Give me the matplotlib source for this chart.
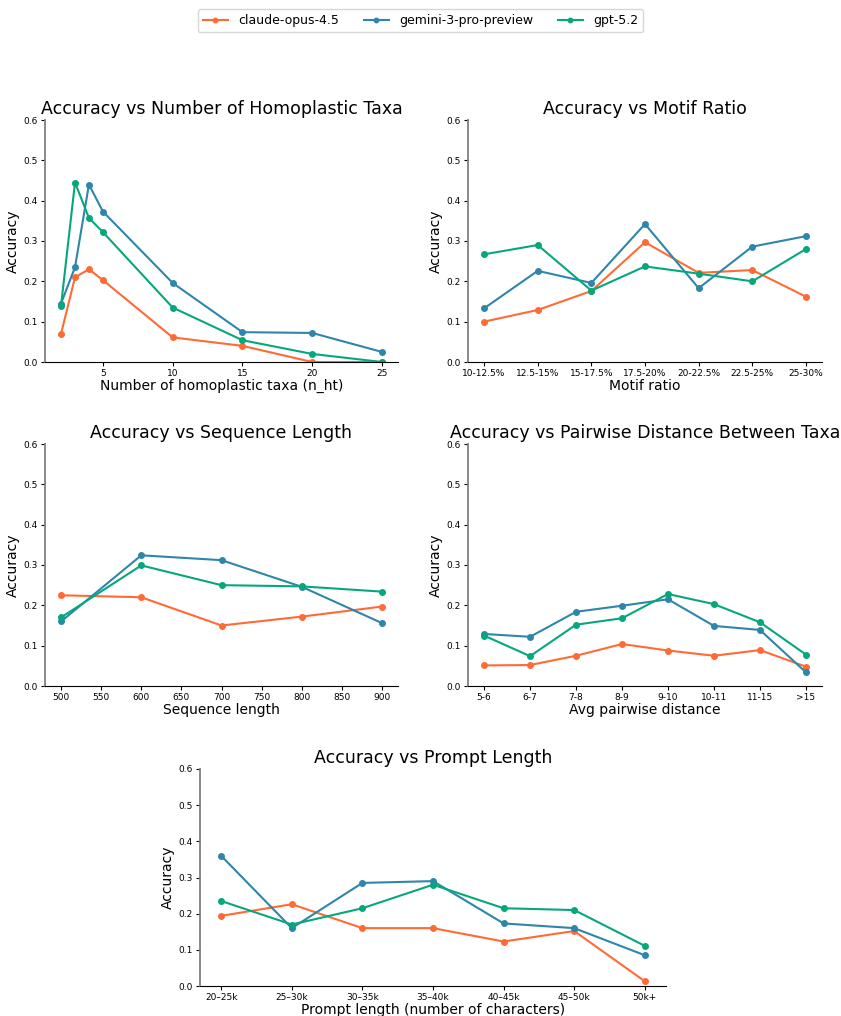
import numpy as np
import matplotlib.pyplot as plt

models = ["claude-opus-4.5", "gemini-3-pro-preview", "gpt-5.2"]
colors = ["#FF6B35", "#2E86AB", "#06A77D"]

# Accuracy vs number of homoplastic taxa
n_ht = [2, 3, 4, 5, 10, 15, 20, 25]
ht_claude = [0.07, 0.21, 0.23, 0.203, 0.061, 0.04, 0.0, 0.0]
ht_gemini = [0.145, 0.235, 0.44, 0.373, 0.196, 0.074, 0.072, 0.025]
ht_gpt = [0.14, 0.445, 0.357, 0.322, 0.135, 0.054, 0.02, 0.0]

# Accuracy vs motif ratio
motif_labels = ["10-12.5%", "12.5-15%", "15-17.5%", "17.5-20%", "20-22.5%", "22.5-25%", "25-30%"]
motif_claude = [0.10, 0.129, 0.176, 0.297, 0.221, 0.228, 0.162]
motif_gemini = [0.133, 0.226, 0.196, 0.342, 0.183, 0.286, 0.312]
motif_gpt = [0.267, 0.29, 0.177, 0.237, 0.219, 0.20, 0.28]

# Accuracy vs sequence length
seq_len = [500, 600, 700, 800, 900]
seq_claude = [0.225, 0.22, 0.15, 0.172, 0.197]
seq_gemini = [0.16, 0.324, 0.312, 0.246, 0.156]
seq_gpt = [0.17, 0.299, 0.25, 0.247, 0.234]

# Accuracy vs pairwise distance
dist_labels = ["5-6", "6-7", "7-8", "8-9", "9-10", "10-11", "11-15", ">15"]
dist_claude = [0.051, 0.052, 0.075, 0.104, 0.088, 0.075, 0.089, 0.048]
dist_gemini = [0.129, 0.122, 0.184, 0.199, 0.215, 0.149, 0.139, 0.034]
dist_gpt = [0.125, 0.074, 0.152, 0.168, 0.228, 0.203, 0.158, 0.078]

# Accuracy vs prompt length
prompt_labels = ["20\u201325k", "25\u201330k", "30\u201335k", "35\u201340k", "40\u201345k", "45\u201350k", "50k+"]
prompt_claude = [0.194, 0.226, 0.16, 0.16, 0.123, 0.152, 0.013]
prompt_gemini = [0.36, 0.16, 0.285, 0.29, 0.173, 0.16, 0.085]
prompt_gpt = [0.235, 0.17, 0.215, 0.28, 0.215, 0.21, 0.111]

W, H = 841, 1016
fig = plt.figure(figsize=(W / 100, H / 100), dpi=100)


def make_ax(x0, y0, x1, y1):
    return fig.add_axes([x0 / W, 1 - y1 / H, (x1 - x0) / W, (y1 - y0) / H])


def style(ax, title, xlabel):
    ax.set_ylim(0, 0.6)
    ax.set_yticks(np.arange(0, 0.61, 0.1))
    ax.set_title(title, fontsize=12.5, pad=4)
    ax.set_xlabel(xlabel, fontsize=10, labelpad=1)
    ax.set_ylabel("Accuracy", fontsize=10, labelpad=3)
    ax.tick_params(labelsize=6.5, length=3, pad=2)
    ax.spines["top"].set_visible(False)
    ax.spines["right"].set_visible(False)
    ax.spines["left"].set_color("#808080")
    ax.spines["left"].set_linewidth(1.3)


def draw(ax, x, series):
    for vals, name, c in zip(series, models, colors):
        ax.plot(x, vals, marker="o", markersize=4, linewidth=1.5, color=c, label=name)


ax1 = make_ax(45, 120, 398, 362)
draw(ax1, n_ht, [ht_claude, ht_gemini, ht_gpt])
ax1.set_xticks([5, 10, 15, 20, 25])
style(ax1, "Accuracy vs Number of Homoplastic Taxa", "Number of homoplastic taxa (n_ht)")

ax2 = make_ax(468, 120, 822, 362)
draw(ax2, np.arange(len(motif_labels)), [motif_claude, motif_gemini, motif_gpt])
ax2.set_xticks(np.arange(len(motif_labels)), motif_labels)
style(ax2, "Accuracy vs Motif Ratio", "Motif ratio")

ax3 = make_ax(45, 444, 398, 686)
draw(ax3, seq_len, [seq_claude, seq_gemini, seq_gpt])
ax3.set_xticks(np.arange(500, 901, 50))
style(ax3, "Accuracy vs Sequence Length", "Sequence length")

ax4 = make_ax(468, 444, 822, 686)
draw(ax4, np.arange(len(dist_labels)), [dist_claude, dist_gemini, dist_gpt])
ax4.set_xticks(np.arange(len(dist_labels)), dist_labels)
style(ax4, "Accuracy vs Pairwise Distance Between Taxa", "Avg pairwise distance")

ax5 = make_ax(200, 769, 666, 986)
draw(ax5, np.arange(len(prompt_labels)), [prompt_claude, prompt_gemini, prompt_gpt])
ax5.set_xticks(np.arange(len(prompt_labels)), prompt_labels)
style(ax5, "Accuracy vs Prompt Length", "Prompt length (number of characters)")

handles, labels = ax1.get_legend_handles_labels()
fig.legend(handles, labels, loc="upper center", bbox_to_anchor=(0.5, 0.997), ncol=3,
           fontsize=9, frameon=True, handlelength=2.0, columnspacing=2.0, markerscale=0.8)

fig.savefig("out.png", dpi=100)
